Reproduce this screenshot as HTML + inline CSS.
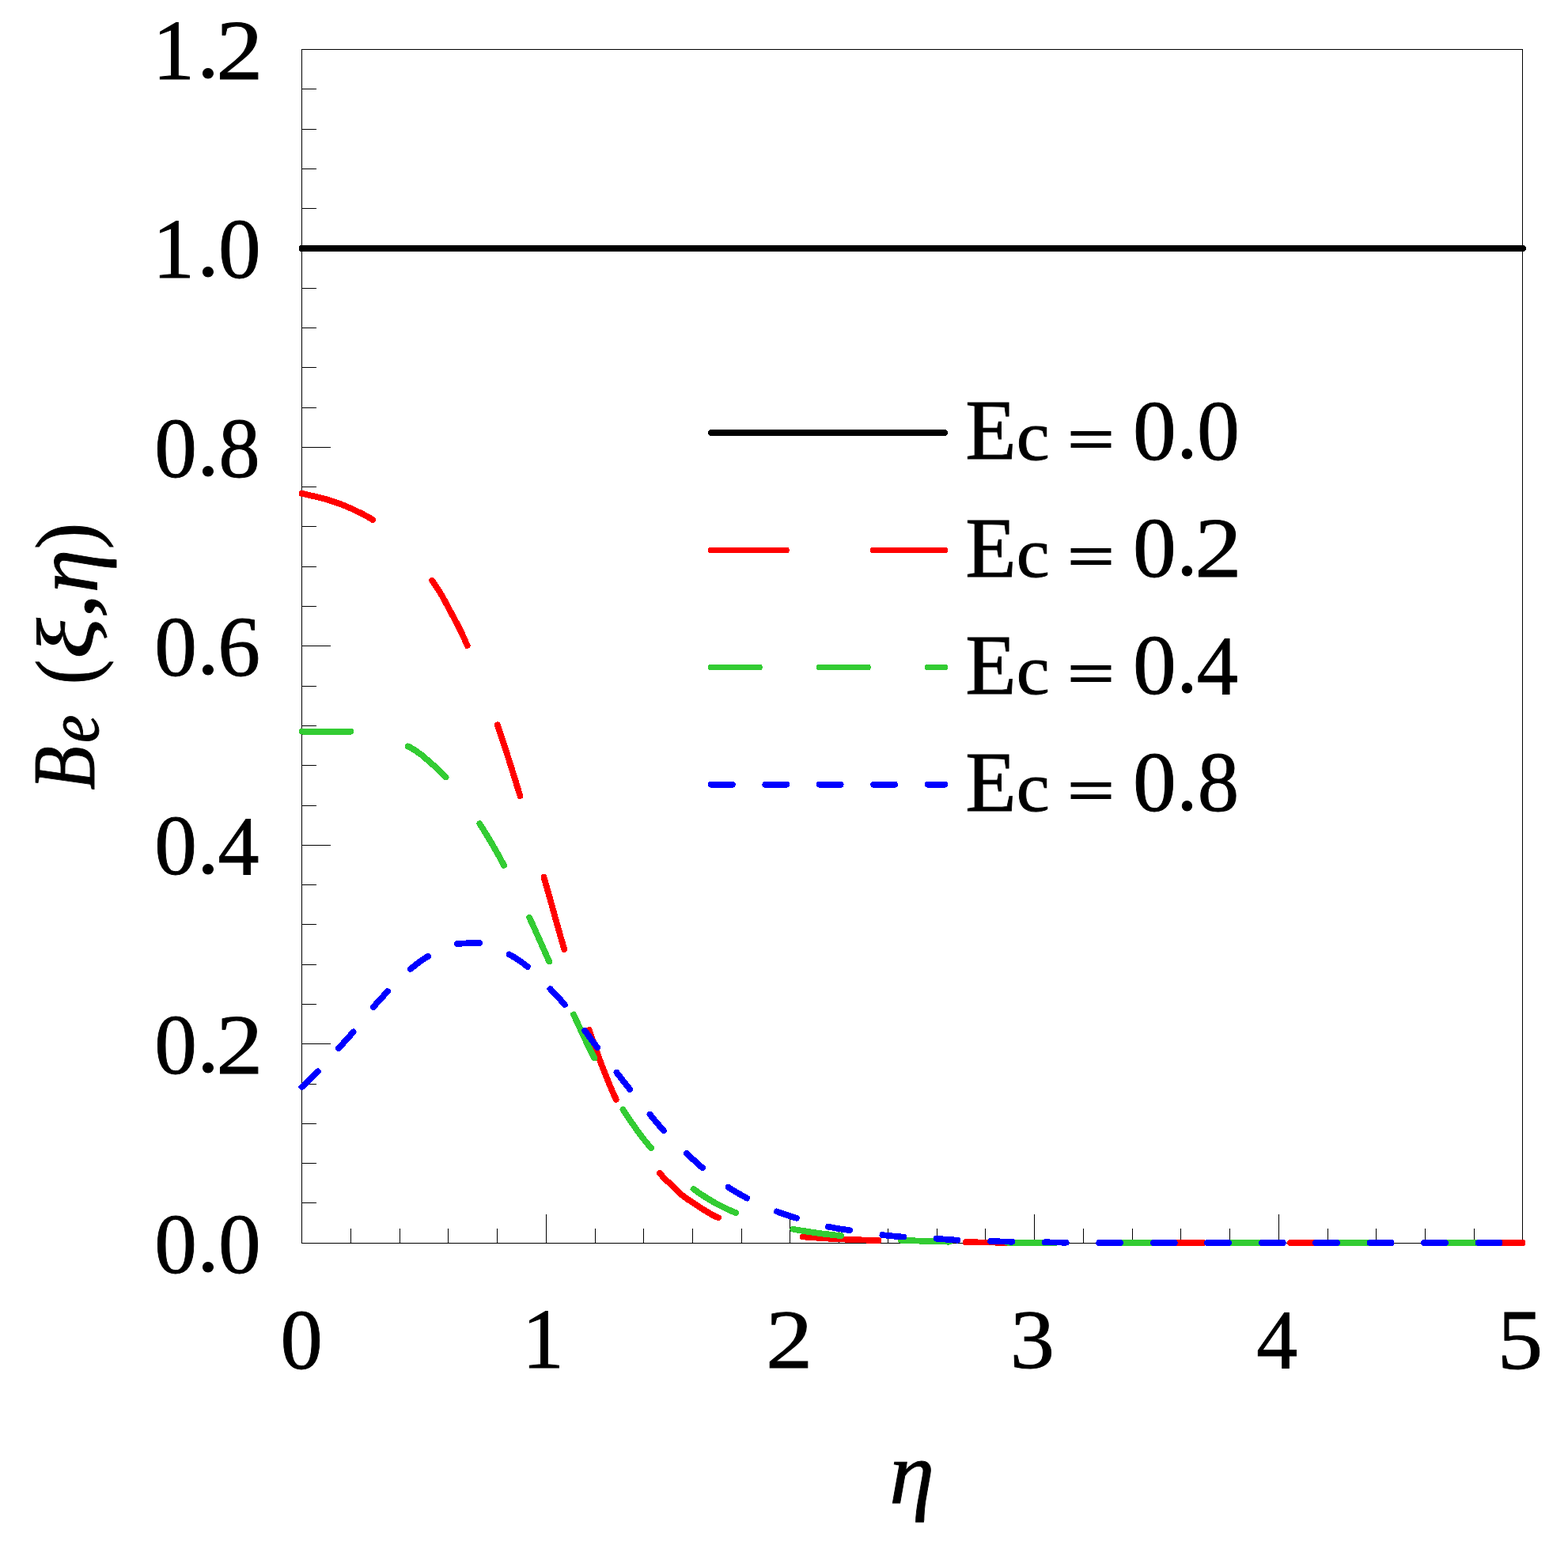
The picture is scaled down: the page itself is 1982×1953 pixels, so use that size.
<!DOCTYPE html>
<html><head><meta charset="utf-8"><title>Be plot</title>
<style>
html,body{margin:0;padding:0;background:#fff;}
svg{display:block;}
text{font-family:"Liberation Serif",serif;fill:#000;}
</style></head><body>
<svg width="1982" height="1953" viewBox="0 0 1982 1953">
<rect width="1982" height="1953" fill="#fff"/>
<g stroke="#000" stroke-width="1" fill="none" shape-rendering="crispEdges">
<path d="M381.5 62.5H1924.5V1571.5H381.5Z"/>
<path d="M381.5 1520.5h18.5M381.5 1470.5h18.5M381.5 1420.5h18.5M381.5 1370.5h18.5M381.5 1319.5h36.5M381.5 1269.5h18.5M381.5 1219.5h18.5M381.5 1168.5h18.5M381.5 1118.5h18.5M381.5 1068.5h36.5M381.5 1018.5h18.5M381.5 967.5h18.5M381.5 917.5h18.5M381.5 867.5h18.5M381.5 816.5h36.5M381.5 766.5h18.5M381.5 716.5h18.5M381.5 665.5h18.5M381.5 615.5h18.5M381.5 565.5h36.5M381.5 515.5h18.5M381.5 464.5h18.5M381.5 414.5h18.5M381.5 364.5h18.5M381.5 313.5h36.5M381.5 263.5h18.5M381.5 213.5h18.5M381.5 163.5h18.5M381.5 112.5h18.5M443.5 1571.5v-18.5M505.5 1571.5v-18.5M566.5 1571.5v-18.5M628.5 1571.5v-18.5M690.5 1571.5v-36.5M752.5 1571.5v-18.5M813.5 1571.5v-18.5M875.5 1571.5v-18.5M937.5 1571.5v-18.5M998.5 1571.5v-36.5M1060.5 1571.5v-18.5M1122.5 1571.5v-18.5M1184.5 1571.5v-18.5M1245.5 1571.5v-18.5M1307.5 1571.5v-36.5M1369.5 1571.5v-18.5M1431.5 1571.5v-18.5M1492.5 1571.5v-18.5M1554.5 1571.5v-18.5M1616.5 1571.5v-36.5M1678.5 1571.5v-18.5M1739.5 1571.5v-18.5M1801.5 1571.5v-18.5M1863.5 1571.5v-18.5"/>
</g>
<path d="M381.5 314.04H1924.9" fill="none" stroke="#000" stroke-width="8" stroke-linecap="round" shape-rendering="crispEdges"/>
<path d="M381.5 623.9 L384.6 624.5 L387.7 625.2 L390.8 625.9 L393.8 626.6 L396.9 627.3 L400.0 628.0 L403.1 628.7 L406.2 629.5 L409.3 630.3 L412.4 631.2 L415.4 632.2 L418.5 633.1 L421.6 634.2 L424.7 635.2 L427.8 636.3 L430.9 637.4 L434.0 638.6 L437.1 639.9 L440.1 641.2 L443.2 642.5 L446.3 643.9 L449.4 645.4 L452.5 646.9 L455.6 648.4 L458.7 649.9 L461.7 651.5 L464.8 653.2 L467.9 655.0 L471.0 657.0M546.0 733.8 L549.2 738.1 L552.4 742.9 L555.6 747.9 L558.8 753.3 L562.0 759.0 L565.2 765.1 L568.4 771.1 L571.5 776.9 L574.7 782.8 L577.9 788.8 L581.1 795.2 L584.3 801.8 L587.5 808.8 L590.7 816.1M628.8 916.2 L631.9 925.6 L635.1 935.1 L638.3 944.9 L641.5 954.8 L644.7 964.9 L647.9 975.1 L651.1 985.4 L654.3 995.8 L657.5 1006.2M687.5 1108.8 L690.7 1120.1 L693.9 1131.5 L697.2 1143.1 L700.4 1154.7 L703.6 1166.2 L706.8 1177.7 L710.0 1188.9 L713.2 1200.0M744.6 1301.7 L747.7 1310.6 L750.8 1319.4 L753.9 1328.1 L757.0 1336.7 L760.1 1345.1 L763.3 1353.2 L766.4 1361.2 L769.5 1368.8 L772.6 1376.1 L775.7 1383.2 L778.8 1389.8M833.8 1482.8 L836.9 1486.4 L840.0 1489.6 L843.1 1492.7 L846.2 1495.6 L849.3 1498.7 L852.3 1501.7 L855.4 1504.8 L858.5 1507.7 L861.6 1510.4 L864.7 1512.8 L867.8 1515.0 L870.9 1517.1 L874.0 1519.1 L877.1 1521.2 L880.2 1523.2 L883.3 1525.3 L886.4 1527.3 L889.5 1529.2 L892.5 1531.0 L895.6 1532.9 L898.7 1534.7 L901.8 1536.5 L904.9 1538.0 L908.0 1539.3M1014.8 1563.4 L1017.9 1563.6 L1021.0 1563.9 L1024.1 1564.1 L1027.1 1564.3 L1030.2 1564.5 L1033.3 1564.7 L1036.4 1564.9 L1039.5 1565.1 L1042.6 1565.3 L1045.6 1565.5 L1048.7 1565.7 L1051.8 1565.8 L1054.9 1566.0 L1058.0 1566.1 L1061.1 1566.3 L1064.1 1566.4 L1067.2 1566.6 L1070.3 1566.7 L1073.4 1566.8 L1076.5 1567.0 L1079.6 1567.1 L1082.6 1567.2 L1085.7 1567.3 L1088.8 1567.4 L1091.9 1567.5 L1095.0 1567.6 L1098.1 1567.7 L1101.1 1567.8 L1104.2 1567.9 L1107.3 1568.0 L1110.4 1568.1M1220.7 1570.2 L1223.8 1570.2 L1226.8 1570.3 L1229.9 1570.3 L1233.0 1570.3 L1236.0 1570.4 L1239.1 1570.4 L1242.2 1570.4 L1245.2 1570.4 L1248.3 1570.5 L1251.3 1570.5 L1254.4 1570.5 L1257.5 1570.6 L1260.5 1570.6 L1263.6 1570.6 L1266.7 1570.6 L1269.7 1570.6 L1272.8 1570.7 L1275.9 1570.7 L1278.9 1570.7 L1282.0 1570.7 L1285.1 1570.7 L1288.1 1570.8 L1291.2 1570.8 L1294.2 1570.8 L1297.3 1570.8 L1300.4 1570.8 L1303.4 1570.8 L1306.5 1570.8 L1309.6 1570.8 L1312.6 1570.8 L1315.7 1570.8M1425.7 1571.0 L1428.8 1571.0 L1431.8 1571.0 L1434.9 1571.0 L1438.0 1571.0 L1441.0 1571.0 L1444.1 1571.0 L1447.2 1571.0 L1450.2 1571.0 L1453.3 1571.0 L1456.3 1571.0 L1459.4 1571.0 L1462.5 1571.0 L1465.5 1571.0 L1468.6 1571.0 L1471.7 1571.0 L1474.7 1571.0 L1477.8 1571.0 L1480.9 1571.0 L1483.9 1571.0 L1487.0 1571.0 L1490.1 1571.0 L1493.1 1571.0 L1496.2 1571.0 L1499.2 1571.0 L1502.3 1571.0 L1505.4 1571.0 L1508.4 1571.0 L1511.5 1571.0 L1514.6 1571.0 L1517.6 1571.0 L1520.7 1571.0M1630.7 1571.0 L1633.8 1571.0 L1636.8 1571.0 L1639.9 1571.0 L1643.0 1571.0 L1646.0 1571.0 L1649.1 1571.0 L1652.2 1571.0 L1655.2 1571.0 L1658.3 1571.0 L1661.3 1571.0 L1664.4 1571.0 L1667.5 1571.0 L1670.5 1571.0 L1673.6 1571.0 L1676.7 1571.0 L1679.7 1571.0 L1682.8 1571.0 L1685.9 1571.0 L1688.9 1571.0 L1692.0 1571.0 L1695.1 1571.0 L1698.1 1571.0 L1701.2 1571.0 L1704.2 1571.0 L1707.3 1571.0 L1710.4 1571.0 L1713.4 1571.0 L1716.5 1571.0 L1719.6 1571.0 L1722.6 1571.0 L1725.7 1571.0M1835.7 1571.0 L1838.8 1571.0 L1841.8 1571.0 L1844.9 1571.0 L1848.0 1571.0 L1851.0 1571.0 L1854.1 1571.0 L1857.2 1571.0 L1860.2 1571.0 L1863.3 1571.0 L1866.4 1571.0 L1869.4 1571.0 L1872.5 1571.0 L1875.6 1571.0 L1878.6 1571.0 L1881.7 1571.0 L1884.7 1571.0 L1887.8 1571.0 L1890.9 1571.0 L1893.9 1571.0 L1897.0 1571.0 L1900.1 1571.0 L1903.1 1571.0 L1906.2 1571.0 L1909.3 1571.0 L1912.3 1571.0 L1915.4 1571.0 L1918.5 1571.0 L1921.5 1571.0 L1924.6 1571.0" fill="none" stroke="#ff0000" stroke-width="7.8" stroke-linecap="round" stroke-linejoin="round" shape-rendering="crispEdges"/>
<path d="M381.5 924.6 L384.6 924.6 L387.7 924.6 L390.8 924.6 L393.9 924.6 L397.0 924.6 L400.1 924.6 L403.2 924.6 L406.3 924.6 L409.4 924.6 L412.5 924.6 L415.6 924.6 L418.7 924.6 L421.8 924.6 L424.9 924.6 L428.0 924.6 L431.1 924.6 L434.2 924.6 L437.3 924.6 L440.4 924.6 L443.5 924.6M515.7 943.5 L518.9 945.0 L522.1 946.9 L525.2 948.9 L528.4 951.1 L531.6 953.4 L534.8 955.9 L537.9 958.6 L541.1 961.4 L544.3 964.1 L547.5 967.0 L550.6 970.0 L553.8 973.0 L557.0 976.0 L560.2 979.0 L563.4 982.4M606.2 1041.2 L609.3 1046.0 L612.4 1050.9 L615.5 1055.9 L618.5 1061.0 L621.6 1066.2 L624.7 1071.5 L627.8 1077.0 L630.9 1082.5 L633.9 1088.1 L637.0 1093.8M669.2 1160.0 L672.4 1166.7 L675.5 1173.6 L678.6 1180.6 L681.8 1187.6 L684.9 1194.6 L688.0 1201.6 L691.1 1208.6 L694.2 1215.5M725.0 1282.5 L728.3 1289.5 L731.6 1296.6 L734.8 1303.6 L738.1 1310.6 L741.4 1317.6 L744.7 1324.4 L748.0 1331.0 L751.2 1337.5M787.5 1402.5 L790.7 1407.5 L794.0 1412.4 L797.2 1417.2 L800.4 1421.8 L803.6 1426.4 L806.9 1430.9 L810.1 1435.2 L813.3 1439.5 L816.5 1443.5 L819.8 1447.5 L823.0 1451.2M876.5 1503.0 L879.6 1505.2 L882.8 1507.4 L885.9 1509.5 L889.1 1511.6 L892.2 1513.6 L895.4 1515.5 L898.5 1517.4 L901.7 1519.3 L904.8 1521.1 L908.0 1522.8 L911.1 1524.4 L914.3 1526.0 L917.4 1527.6 L920.6 1529.0 L923.7 1530.4 L926.9 1531.8 L930.0 1533.0M1002.4 1553.7 L1005.4 1554.3 L1008.5 1554.8 L1011.5 1555.3 L1014.6 1555.8 L1017.6 1556.3 L1020.6 1556.8 L1023.7 1557.3 L1026.7 1557.7 L1029.8 1558.1 L1032.8 1558.6 L1035.8 1559.0 L1038.9 1559.4 L1041.9 1559.8 L1045.0 1560.1 L1048.0 1560.5 L1051.0 1560.8 L1054.1 1561.2 L1057.1 1561.5 L1060.2 1561.8 L1063.2 1562.1M1139.0 1567.7 L1142.0 1567.8 L1145.1 1568.0 L1148.2 1568.1 L1151.2 1568.2 L1154.2 1568.3 L1157.3 1568.4 L1160.3 1568.5 L1163.4 1568.7 L1166.5 1568.8 L1169.5 1568.9 L1172.5 1569.0 L1175.6 1569.0 L1178.7 1569.1 L1181.7 1569.2 L1184.8 1569.3 L1187.8 1569.4 L1190.8 1569.4 L1193.9 1569.5 L1197.0 1569.6 L1200.0 1569.6M1273.0 1570.6 L1276.0 1570.7 L1279.1 1570.7 L1282.2 1570.7 L1285.2 1570.7 L1288.2 1570.7 L1291.3 1570.8 L1294.3 1570.8 L1297.4 1570.8 L1300.5 1570.8 L1303.5 1570.8 L1306.5 1570.8 L1309.6 1570.8 L1312.7 1570.8 L1315.7 1570.9 L1318.8 1570.9 L1321.8 1570.9 L1324.8 1570.9 L1327.9 1570.9 L1331.0 1570.9 L1334.0 1570.9M1410.0 1571.0 L1413.0 1571.0 L1416.1 1571.0 L1419.2 1571.0 L1422.2 1571.0 L1425.2 1571.0 L1428.3 1571.0 L1431.3 1571.0 L1434.4 1571.0 L1437.5 1571.0 L1440.5 1571.0 L1443.5 1571.0 L1446.6 1571.0 L1449.7 1571.0 L1452.7 1571.0 L1455.8 1571.0 L1458.8 1571.0 L1461.8 1571.0 L1464.9 1571.0 L1468.0 1571.0 L1471.0 1571.0M1547.0 1571.0 L1550.0 1571.0 L1553.1 1571.0 L1556.2 1571.0 L1559.2 1571.0 L1562.2 1571.0 L1565.3 1571.0 L1568.3 1571.0 L1571.4 1571.0 L1574.5 1571.0 L1577.5 1571.0 L1580.5 1571.0 L1583.6 1571.0 L1586.7 1571.0 L1589.7 1571.0 L1592.8 1571.0 L1595.8 1571.0 L1598.8 1571.0 L1601.9 1571.0 L1605.0 1571.0 L1608.0 1571.0M1684.0 1571.0 L1687.0 1571.0 L1690.1 1571.0 L1693.2 1571.0 L1696.2 1571.0 L1699.2 1571.0 L1702.3 1571.0 L1705.3 1571.0 L1708.4 1571.0 L1711.5 1571.0 L1714.5 1571.0 L1717.5 1571.0 L1720.6 1571.0 L1723.7 1571.0 L1726.7 1571.0 L1729.8 1571.0 L1732.8 1571.0 L1735.8 1571.0 L1738.9 1571.0 L1742.0 1571.0 L1745.0 1571.0M1821.0 1571.0 L1824.0 1571.0 L1827.1 1571.0 L1830.2 1571.0 L1833.2 1571.0 L1836.2 1571.0 L1839.3 1571.0 L1842.3 1571.0 L1845.4 1571.0 L1848.5 1571.0 L1851.5 1571.0 L1854.5 1571.0 L1857.6 1571.0 L1860.7 1571.0 L1863.7 1571.0 L1866.8 1571.0 L1869.8 1571.0 L1872.8 1571.0 L1875.9 1571.0 L1879.0 1571.0 L1882.0 1571.0" fill="none" stroke="#33cc33" stroke-width="7.8" stroke-linecap="round" stroke-linejoin="round" shape-rendering="crispEdges"/>
<path d="M381.5 1374.0 L384.9 1370.9 L388.3 1367.8 L391.7 1364.6 L395.1 1361.3 L398.5 1357.9 L401.9 1354.4M427.8 1325.3 L430.9 1321.8 L434.1 1318.4 L437.2 1315.0 L440.3 1311.5 L443.5 1308.0 L446.6 1304.4M471.8 1273.2 L474.8 1269.8 L477.8 1266.3 L480.9 1263.0 L483.9 1259.7 L487.0 1256.4 L490.0 1253.2M518.8 1225.0 L522.0 1222.4 L525.2 1219.8 L528.4 1217.3 L531.6 1214.9 L534.8 1212.7 L538.0 1210.6 L541.2 1208.8M578.0 1193.0 L581.1 1192.8 L584.3 1192.6 L587.4 1192.5 L590.6 1192.3 L593.7 1192.2 L596.8 1192.1 L600.0 1192.1 L603.1 1192.0 L606.2 1192.0M643.8 1206.5 L647.0 1208.3 L650.3 1210.2 L653.6 1212.3 L656.9 1214.6 L660.2 1216.9 L663.5 1219.4 L666.8 1222.0M695.5 1250.0 L698.5 1253.2 L701.6 1256.4 L704.6 1259.7 L707.7 1263.0 L710.7 1266.5 L713.8 1270.0M739.0 1302.7 L742.2 1306.9 L745.4 1311.2 L748.6 1315.6 L751.8 1319.9 L755.0 1324.1M779.5 1355.8 L782.9 1360.1 L786.2 1364.4 L789.6 1368.7 L792.9 1372.9 L796.3 1377.2M821.5 1408.7 L825.0 1413.0 L828.5 1417.2 L832.0 1421.4 L835.5 1425.5 L839.0 1429.4M868.0 1458.0 L871.3 1461.2 L874.7 1464.3 L878.0 1467.4 L881.3 1470.5 L884.7 1473.5 L888.0 1476.3M920.6 1500.8 L924.0 1503.0 L927.3 1505.0 L930.7 1507.1 L934.0 1509.0 L937.4 1510.9 L940.7 1512.7 L944.1 1514.5M982.0 1531.5 L985.1 1532.7 L988.2 1533.8 L991.4 1534.8 L994.5 1535.9 L997.6 1536.9 L1000.8 1537.9 L1003.9 1538.9 L1007.0 1539.8M1047.0 1550.7 L1050.0 1551.3 L1053.0 1551.8 L1056.0 1552.4 L1059.0 1552.9 L1062.0 1553.4 L1065.0 1553.8 L1068.0 1554.3 L1071.0 1554.7 L1074.0 1555.2M1115.4 1561.1 L1118.7 1561.5 L1122.1 1561.8 L1125.4 1562.2 L1128.8 1562.5 L1132.1 1562.8 L1135.4 1563.1 L1138.8 1563.4 L1142.1 1563.6M1183.7 1565.8 L1187.0 1566.0 L1190.4 1566.3 L1193.7 1566.5 L1197.1 1566.8 L1200.4 1567.1 L1203.7 1567.3 L1207.1 1567.5 L1210.4 1567.7M1252.2 1569.1 L1255.2 1569.1 L1258.2 1569.2 L1261.2 1569.3 L1264.2 1569.4 L1267.2 1569.4 L1270.2 1569.5 L1273.2 1569.5 L1276.2 1569.6 L1279.2 1569.7M1320.7 1570.3 L1323.7 1570.3 L1326.7 1570.4 L1329.7 1570.4 L1332.7 1570.5 L1335.7 1570.5 L1338.7 1570.5 L1341.7 1570.6 L1344.7 1570.6 L1347.7 1570.7M1389.2 1571.0 L1392.2 1571.0 L1395.2 1571.0 L1398.2 1571.0 L1401.2 1571.0 L1404.2 1571.0 L1407.2 1571.0 L1410.2 1571.0 L1413.2 1571.0 L1416.2 1571.0M1457.7 1571.0 L1460.7 1571.0 L1463.7 1571.0 L1466.7 1571.0 L1469.7 1571.0 L1472.7 1571.0 L1475.7 1571.0 L1478.7 1571.0 L1481.7 1571.0 L1484.7 1571.0M1526.2 1571.0 L1529.2 1571.0 L1532.2 1571.0 L1535.2 1571.0 L1538.2 1571.0 L1541.2 1571.0 L1544.2 1571.0 L1547.2 1571.0 L1550.2 1571.0 L1553.2 1571.0M1594.7 1571.0 L1597.7 1571.0 L1600.7 1571.0 L1603.7 1571.0 L1606.7 1571.0 L1609.7 1571.0 L1612.7 1571.0 L1615.7 1571.0 L1618.7 1571.0 L1621.7 1571.0M1663.1 1571.0 L1666.1 1571.0 L1669.1 1571.0 L1672.1 1571.0 L1675.1 1571.0 L1678.1 1571.0 L1681.1 1571.0 L1684.1 1571.0 L1687.1 1571.0 L1690.1 1571.0M1731.6 1571.0 L1734.6 1571.0 L1737.6 1571.0 L1740.6 1571.0 L1743.6 1571.0 L1746.6 1571.0 L1749.6 1571.0 L1752.6 1571.0 L1755.6 1571.0 L1758.6 1571.0M1800.1 1571.0 L1803.1 1571.0 L1806.1 1571.0 L1809.1 1571.0 L1812.1 1571.0 L1815.1 1571.0 L1818.1 1571.0 L1821.1 1571.0 L1824.1 1571.0 L1827.1 1571.0M1868.6 1571.0 L1871.6 1571.0 L1874.6 1571.0 L1877.6 1571.0 L1880.6 1571.0 L1883.6 1571.0 L1886.6 1571.0 L1889.6 1571.0 L1892.6 1571.0 L1895.6 1571.0" fill="none" stroke="#0000ff" stroke-width="7.8" stroke-linecap="round" stroke-linejoin="round" shape-rendering="crispEdges"/>
<path d="M898.8 547H1194.2" fill="none" stroke="#000" stroke-width="7.8" stroke-linecap="round" shape-rendering="crispEdges"/>
<path d="M898.8 695.5H1194.2" fill="none" stroke="#ff0000" stroke-width="7.8" stroke-linecap="round" shape-rendering="crispEdges" stroke-dasharray="95 110"/>
<path d="M898.8 843.5H1194.2" fill="none" stroke="#33cc33" stroke-width="7.8" stroke-linecap="round" shape-rendering="crispEdges" stroke-dasharray="61 76"/>
<path d="M898.8 991.75H1194.2" fill="none" stroke="#0000ff" stroke-width="7.8" stroke-linecap="round" shape-rendering="crispEdges" stroke-dasharray="27 41.45"/>
<text stroke="#000" stroke-width="0.9"><tspan x="1220.31" y="580.45" font-size="108.59" textLength="64.39" lengthAdjust="spacingAndGlyphs">E</tspan><tspan x="1284.70" y="580.57" font-size="89.61" textLength="41.96" lengthAdjust="spacingAndGlyphs">c</tspan><tspan> </tspan><tspan x="1349.74" y="580.83" font-size="76.00" textLength="58.42" lengthAdjust="spacingAndGlyphs" stroke-width="2.0">=</tspan><tspan> </tspan><tspan x="1431.98" y="580.71" font-size="106.99" textLength="54.74" lengthAdjust="spacingAndGlyphs">0</tspan><tspan x="1487.18" y="579.25" font-size="105.79" textLength="26.45" lengthAdjust="spacingAndGlyphs">.</tspan><tspan x="1513.14" y="580.91" font-size="106.99" textLength="53.91" lengthAdjust="spacingAndGlyphs">0</tspan></text>
<text stroke="#000" stroke-width="0.9"><tspan x="1220.31" y="728.50" font-size="108.59" textLength="64.39" lengthAdjust="spacingAndGlyphs">E</tspan><tspan x="1284.70" y="728.62" font-size="89.61" textLength="41.96" lengthAdjust="spacingAndGlyphs">c</tspan><tspan> </tspan><tspan x="1349.74" y="728.88" font-size="76.00" textLength="58.42" lengthAdjust="spacingAndGlyphs" stroke-width="2.0">=</tspan><tspan> </tspan><tspan x="1431.98" y="728.76" font-size="106.99" textLength="54.74" lengthAdjust="spacingAndGlyphs">0</tspan><tspan x="1487.18" y="727.30" font-size="105.79" textLength="26.45" lengthAdjust="spacingAndGlyphs">.</tspan><tspan x="1510.33" y="728.50" font-size="107.23" textLength="59.43" lengthAdjust="spacingAndGlyphs">2</tspan></text>
<text stroke="#000" stroke-width="0.9"><tspan x="1220.31" y="876.55" font-size="108.59" textLength="64.39" lengthAdjust="spacingAndGlyphs">E</tspan><tspan x="1284.70" y="876.67" font-size="89.61" textLength="41.96" lengthAdjust="spacingAndGlyphs">c</tspan><tspan> </tspan><tspan x="1349.74" y="876.93" font-size="76.00" textLength="58.42" lengthAdjust="spacingAndGlyphs" stroke-width="2.0">=</tspan><tspan> </tspan><tspan x="1431.98" y="876.81" font-size="106.99" textLength="54.74" lengthAdjust="spacingAndGlyphs">0</tspan><tspan x="1487.18" y="875.35" font-size="105.79" textLength="26.45" lengthAdjust="spacingAndGlyphs">.</tspan><tspan x="1512.71" y="876.55" font-size="106.81" textLength="52.28" lengthAdjust="spacingAndGlyphs">4</tspan></text>
<text stroke="#000" stroke-width="0.9"><tspan x="1220.31" y="1025.05" font-size="108.59" textLength="64.39" lengthAdjust="spacingAndGlyphs">E</tspan><tspan x="1284.70" y="1025.17" font-size="89.61" textLength="41.96" lengthAdjust="spacingAndGlyphs">c</tspan><tspan> </tspan><tspan x="1349.74" y="1025.43" font-size="76.00" textLength="58.42" lengthAdjust="spacingAndGlyphs" stroke-width="2.0">=</tspan><tspan> </tspan><tspan x="1431.98" y="1025.31" font-size="106.99" textLength="54.74" lengthAdjust="spacingAndGlyphs">0</tspan><tspan x="1487.18" y="1023.85" font-size="105.79" textLength="26.45" lengthAdjust="spacingAndGlyphs">.</tspan><tspan x="1513.66" y="1025.31" font-size="106.99" textLength="52.38" lengthAdjust="spacingAndGlyphs">8</tspan></text>
<text stroke="#000" stroke-width="0.9"><tspan x="193.06" y="99.55" font-size="108.08" textLength="52.83" lengthAdjust="spacingAndGlyphs">1</tspan><tspan x="249.09" y="98.35" font-size="105.79" textLength="27.93" lengthAdjust="spacingAndGlyphs">.</tspan><tspan x="273.15" y="99.55" font-size="107.23" textLength="59.18" lengthAdjust="spacingAndGlyphs">2</tspan></text>
<text stroke="#000" stroke-width="0.9"><tspan x="193.06" y="350.55" font-size="108.08" textLength="52.83" lengthAdjust="spacingAndGlyphs">1</tspan><tspan x="249.09" y="349.35" font-size="105.79" textLength="27.93" lengthAdjust="spacingAndGlyphs">.</tspan><tspan x="275.96" y="351.01" font-size="106.99" textLength="53.68" lengthAdjust="spacingAndGlyphs">0</tspan></text>
<text stroke="#000" stroke-width="0.9"><tspan x="195.26" y="602.81" font-size="106.99" textLength="53.68" lengthAdjust="spacingAndGlyphs">0</tspan><tspan x="249.09" y="601.35" font-size="105.79" textLength="27.93" lengthAdjust="spacingAndGlyphs">.</tspan><tspan x="276.48" y="602.81" font-size="106.99" textLength="52.14" lengthAdjust="spacingAndGlyphs">8</tspan></text>
<text stroke="#000" stroke-width="0.9"><tspan x="195.26" y="853.81" font-size="106.99" textLength="53.68" lengthAdjust="spacingAndGlyphs">0</tspan><tspan x="249.09" y="852.35" font-size="105.79" textLength="27.93" lengthAdjust="spacingAndGlyphs">.</tspan><tspan x="275.22" y="853.50" font-size="107.16" textLength="53.83" lengthAdjust="spacingAndGlyphs">6</tspan></text>
<text stroke="#000" stroke-width="0.9"><tspan x="195.26" y="1105.31" font-size="106.99" textLength="53.68" lengthAdjust="spacingAndGlyphs">0</tspan><tspan x="249.09" y="1103.85" font-size="105.79" textLength="27.93" lengthAdjust="spacingAndGlyphs">.</tspan><tspan x="275.52" y="1105.05" font-size="106.81" textLength="52.06" lengthAdjust="spacingAndGlyphs">4</tspan></text>
<text stroke="#000" stroke-width="0.9"><tspan x="195.26" y="1356.81" font-size="106.99" textLength="53.68" lengthAdjust="spacingAndGlyphs">0</tspan><tspan x="249.09" y="1355.35" font-size="105.79" textLength="27.93" lengthAdjust="spacingAndGlyphs">.</tspan><tspan x="273.15" y="1356.55" font-size="107.23" textLength="59.18" lengthAdjust="spacingAndGlyphs">2</tspan></text>
<text stroke="#000" stroke-width="0.9"><tspan x="195.26" y="1608.51" font-size="106.99" textLength="53.68" lengthAdjust="spacingAndGlyphs">0</tspan><tspan x="249.09" y="1607.05" font-size="105.79" textLength="27.93" lengthAdjust="spacingAndGlyphs">.</tspan><tspan x="275.96" y="1608.71" font-size="106.99" textLength="53.68" lengthAdjust="spacingAndGlyphs">0</tspan></text>
<text stroke="#000" stroke-width="0.9"><tspan x="354.39" y="1729.51" font-size="106.99" textLength="53.32" lengthAdjust="spacingAndGlyphs">0</tspan></text>
<text stroke="#000" stroke-width="0.9"><tspan x="660.06" y="1728.55" font-size="107.85" textLength="52.83" lengthAdjust="spacingAndGlyphs">1</tspan></text>
<text stroke="#000" stroke-width="0.9"><tspan x="968.03" y="1728.55" font-size="106.63" textLength="59.37" lengthAdjust="spacingAndGlyphs">2</tspan></text>
<text stroke="#000" stroke-width="0.9"><tspan x="1276.86" y="1728.51" font-size="106.12" textLength="56.28" lengthAdjust="spacingAndGlyphs">3</tspan></text>
<text stroke="#000" stroke-width="0.9"><tspan x="1588.32" y="1728.55" font-size="106.81" textLength="52.01" lengthAdjust="spacingAndGlyphs">4</tspan></text>
<text stroke="#000" stroke-width="0.9"><tspan x="1892.72" y="1729.50" font-size="107.14" textLength="57.47" lengthAdjust="spacingAndGlyphs">5</tspan></text>
<text stroke="#000" stroke-width="0.9"><tspan x="1124.17" y="1900.01" font-size="111.75" textLength="56.84" lengthAdjust="spacingAndGlyphs" font-style="italic">η</tspan></text>
<text transform="rotate(-90)" stroke="#000" stroke-width="0.9"><tspan x="-998.39" y="119.42" font-size="111.75" textLength="55.33" lengthAdjust="spacingAndGlyphs" font-style="italic">B</tspan><tspan x="-939.00" y="124.04" font-size="92.94" textLength="35.34" lengthAdjust="spacingAndGlyphs" font-style="italic">e</tspan><tspan> </tspan><tspan x="-865.31" y="120.06" font-size="107.97" textLength="31.51" lengthAdjust="spacingAndGlyphs">(</tspan><tspan x="-832.67" y="116.54" font-size="102.17" textLength="51.58" lengthAdjust="spacingAndGlyphs" font-style="italic">ξ</tspan><tspan x="-782.03" y="117.52" font-size="107.46" textLength="32.06" lengthAdjust="spacingAndGlyphs">,</tspan><tspan x="-749.49" y="122.97" font-size="113.79" textLength="54.83" lengthAdjust="spacingAndGlyphs" font-style="italic">η</tspan><tspan x="-694.19" y="120.06" font-size="107.97" textLength="33.45" lengthAdjust="spacingAndGlyphs">)</tspan></text>
</svg>
</body></html>
